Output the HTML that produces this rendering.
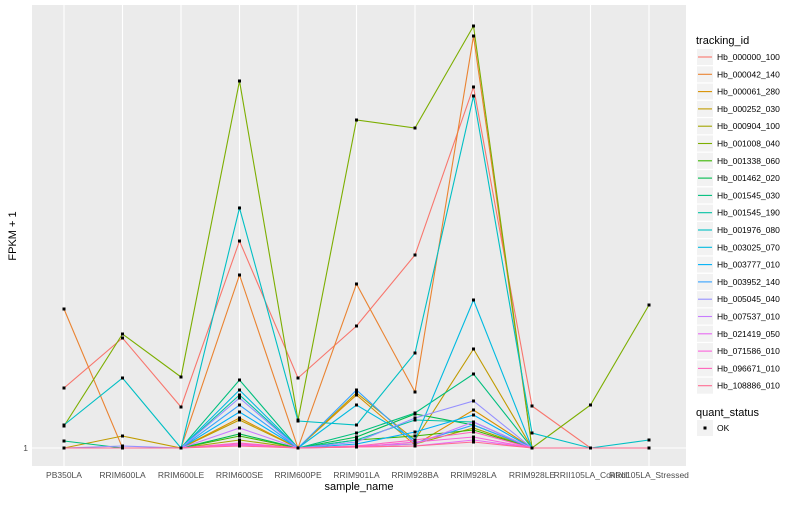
<!DOCTYPE html>
<html><head><meta charset="utf-8"><style>
body{margin:0;background:#fff;font-family:"Liberation Sans",sans-serif}
svg text{font-family:"Liberation Sans",sans-serif}
</style></head><body>
<svg id="chart" width="800" height="500" xmlns="http://www.w3.org/2000/svg">
<rect x="32" y="5" width="654" height="461" fill="#EBEBEB"/>
<g id="grid"></g><g id="lines"></g><g id="pts"></g><g id="axes"></g><g id="legend"></g>
<text x="359" y="490" font-size="11" text-anchor="middle">sample_name</text>
<text transform="translate(16,236) rotate(-90)" font-size="11" text-anchor="middle">FPKM + 1</text>
</svg>
<script>
const categories=["PB350LA","RRIM600LA","RRIM600LE","RRIM600SE","RRIM600PE","RRIM901LA","RRIM928BA","RRIM928LA","RRIM928LE","RRII105LA_Control","RRII105LA_Stressed"];
const genes=["Hb_000000_100","Hb_000042_140","Hb_000061_280","Hb_000252_030","Hb_000904_100","Hb_001008_040","Hb_001338_060","Hb_001462_020","Hb_001545_030","Hb_001545_190","Hb_001976_080","Hb_003025_070","Hb_003777_010","Hb_003952_140","Hb_005045_040","Hb_007537_010","Hb_021419_050","Hb_071586_010","Hb_096671_010","Hb_108886_010"];
const colors=["#F8766D","#EA8331","#D89000","#C09B00","#A3A500","#7CAE00","#39B600","#00BB4E","#00BF7D","#00C1A3","#00BFC4","#00BAE0","#00B0F6","#35A2FF","#9590FF","#C77CFF","#E76BF3","#FA62DB","#FF62BC","#FF6C91"];
const s00=[16,28.5,11.25,52.75,18.5,31.5,49.25,91.25,11.5,1,1];
const s01=[35.75,1,1,44.25,1,42,15,104,1,1,1];
const s02=[1,1,1,8.5,1,14.25,1.75,10.5,1,1,1];
const s03=[1,4,1,8,1,14.75,3,25.75,1,1,1];
const s04=[1,1,1,3,1,1.5,2,6,1,1,1];
const s05=[6.5,29.5,18.75,92.75,8,83,81,106.5,1,11.75,36.75];
const s06=[1,1,1,4,1,3,4,5.5,1,1,1];
const s07=[1,1,1,4.5,1,3.75,9.5,6.75,1,1,1];
const s08=[2.75,1,1,18,1,4.75,9.75,19.5,1,1,1];
const s09=[1,1,1,14.25,1,3,8,7.5,1,1,1];
const s10=[6.75,18.5,1,61,7.75,6.75,24.75,89,4.75,1,3];
const s11=[1,1,1,15.5,1,11.75,3,38,1,1,1];
const s12=[1,1,1,10,1,2,5,9.25,1,1,1];
const s13=[1,1,1,11.75,1,15.5,2.25,6.75,1,1,1];
const s14=[1,1.5,1,13.5,1,2.5,8.5,12.75,1,1,1];
const s15=[1,1,1,6,1,1.5,2,7.5,1,1,1];
const s16=[1,1,1,1.75,1,1.25,1.5,3,1,1,1];
const s17=[1,1,1,2,1,1.25,2.5,3.75,1,1,1];
const s18=[1,1,1,2.25,1,1.5,3,5,1,1,1];
const s19=[1,1,1,1.5,1,1.25,1.5,2.5,1,1,1];
const series=[s00,s01,s02,s03,s04,s05,s06,s07,s08,s09,s10,s11,s12,s13,s14,s15,s16,s17,s18,s19];
const yTicks=[1];
const NS="http://www.w3.org/2000/svg";
function xPos(i){return 64+i*58.5;}
function yPos(v){return 448-(v-1)*4;}
function mk(tag,attrs,parent){const e=document.createElementNS(NS,tag);for(const k in attrs)e.setAttribute(k,attrs[k]);parent.appendChild(e);return e;}
const grid=document.getElementById('grid'),lines=document.getElementById('lines'),pts=document.getElementById('pts'),axes=document.getElementById('axes'),leg=document.getElementById('legend');
categories.forEach((c,i)=>{
  const g=mk('line',{x1:xPos(i),x2:xPos(i),y1:5,y2:466,stroke:'#fff','stroke-width':1.1},grid);
  
  
  const t=mk('text',{x:xPos(i),y:478,'font-size':8.5,fill:'#4D4D4D','text-anchor':'middle'},axes);
  
  
  t.textContent=c;
});
yTicks.forEach(v=>{
  const g=mk('line',{x1:32,x2:686,y1:yPos(v),y2:yPos(v),stroke:'#fff','stroke-width':1.1},grid);
  
  
  const t=mk('text',{x:28,y:yPos(v)+3,'font-size':8.5,fill:'#4D4D4D','text-anchor':'end'},axes);
  
  
  t.textContent=v;
});
series.forEach((s,k)=>{
  const p=mk('polyline',{points:s.map((v,i)=>xPos(i)+','+yPos(v)).join(' '),fill:'none',stroke:colors[k],'stroke-width':1.1},lines);
  
  
  s.forEach((v,i)=>{
    const r=mk('rect',{x:xPos(i)-1.5,y:yPos(v)-1.5,width:3,height:3,fill:'#000'},pts);
    
    
  });
});
let t=mk('text',{x:696,y:44,'font-size':11},leg);


t.textContent='tracking_id';
genes.forEach((g,k)=>{
  const y=57+k*17.3;
  const b=mk('rect',{x:697,y:y-8,width:16,height:16,fill:'#F2F2F2'},leg);
  
  
  const l=mk('line',{x1:698,x2:712,y1:y,y2:y,stroke:colors[k],'stroke-width':1.1},leg);
  
  
  const tx=mk('text',{x:717,y:y+3,'font-size':8.5},leg);
  
  
  tx.textContent=g;
});
t=mk('text',{x:696,y:416,'font-size':11},leg);


t.textContent='quant_status';
const kb=mk('rect',{x:697,y:420,width:16,height:16,fill:'#F2F2F2'},leg);


const kp=mk('rect',{x:703.5,y:426.5,width:3,height:3,fill:'#000'},leg);


const ok=mk('text',{x:717,y:431,'font-size':8.5},leg);


ok.textContent='OK';
</script>
</body></html>
